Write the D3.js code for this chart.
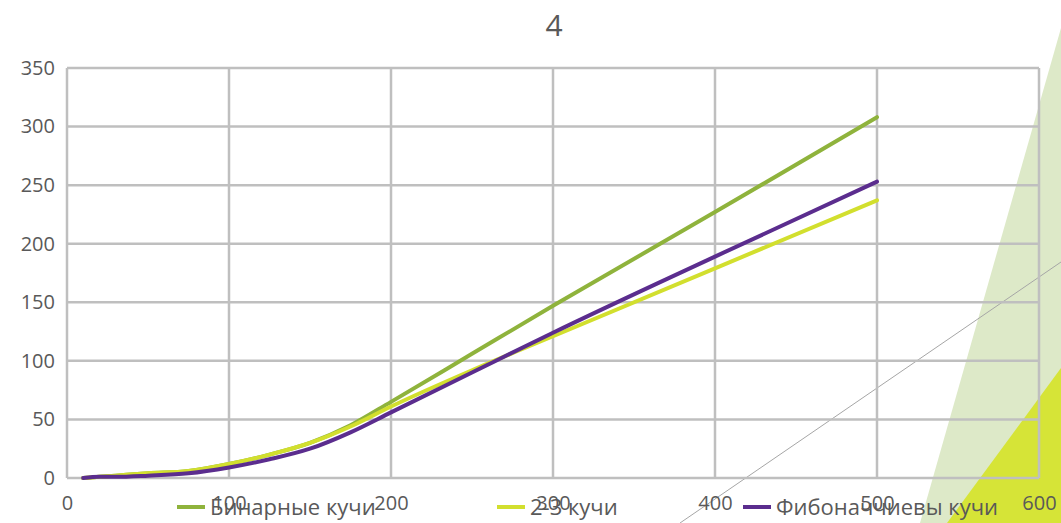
<!DOCTYPE html>
<html>
<head>
<meta charset="utf-8">
<script src="https://cdn.jsdelivr.net/npm/d3@7"></script>
<style>
  html, body { margin: 0; padding: 0; background: #fff; }
  svg { display: block; font-family: "Open Sans", sans-serif; }
</style>
</head>
<body>
<div id="chart"></div>
<script>
// data
const sizes = [10, 20, 30, 50, 75, 100, 125, 150, 175, 200, 250, 300, 400, 500];
const binary = [0, 1, 2, 4, 6, 12, 20, 30, 45, 65, 106, 147, 227, 308];
const twoThree = [0, 1, 2, 4, 6, 12, 20, 30, 44, 61, 92, 121, 179, 237];
const fibonacci = [0, 1, 1, 2, 4, 9, 16, 25, 39, 56, 90, 124, 189, 253];
const seriesNames = ["Бинарные кучи", "2-3 кучи", "Фибоначчиевы кучи"];
const xTicks = [0, 100, 200, 300, 400, 500, 600];
const yTicks = [0, 50, 100, 150, 200, 250, 300, 350];

const width = 1061, height = 523;
const colors = ["#8fb33c", "#d2df2e", "#5b2d8e"];

const svg = d3.select("#chart").append("svg")
    .attr("width", width)
    .attr("height", height);

// slide decoration behind the chart
svg.append("polygon")
    .attr("points", "1061,28 1061,523 920,523")
    .attr("fill", "#dde9c8");
svg.append("polygon")
    .attr("points", "1061,368 1061,523 947,523")
    .attr("fill", "#d6e437");
svg.append("line")
    .attr("x1", 680).attr("y1", 523)
    .attr("x2", 1061).attr("y2", 262)
    .attr("stroke", "#a6a6a6")
    .attr("stroke-width", 1);

const x = d3.scaleLinear().domain([0, 600]).range([67, 1039]);
const y = d3.scaleLinear().domain([0, 350]).range([478, 68]);

// title
svg.append("text")
    .attr("x", 554).attr("y", 36)
    .attr("text-anchor", "middle")
    .style("font-size", "30px")
    .style("fill", "#595959")
    .text("4");

// grid
const grid = svg.append("g").attr("stroke", "#bfbfbf").attr("stroke-width", 2.5);
grid.selectAll(".gx").data(xTicks).enter().append("line")
    .attr("x1", d => x(d)).attr("x2", d => x(d))
    .attr("y1", y(0)).attr("y2", y(350));
grid.selectAll(".gy").data(yTicks).enter().append("line")
    .attr("x1", x(0)).attr("x2", x(600))
    .attr("y1", d => y(d)).attr("y2", d => y(d));

// axes (labels only)
const xAxis = svg.append("g")
    .attr("transform", `translate(0, ${y(0)})`)
    .call(d3.axisBottom(x).tickValues(xTicks).tickSize(0).tickPadding(18));
const yAxis = svg.append("g")
    .attr("transform", `translate(${x(0)}, 0)`)
    .call(d3.axisLeft(y).tickValues(yTicks).tickSize(0).tickPadding(12));
[xAxis, yAxis].forEach(a => {
    a.select(".domain").remove();
    a.selectAll("text")
        .style("font-size", "20px")
        .style("font-family", "Open Sans, sans-serif")
        .style("fill", "#595959");
});

// lines
const allSeries = [binary, twoThree, fibonacci];
const line = d3.line()
    .x((d, i) => x(sizes[i]))
    .y(d => y(d))
    .curve(d3.curveMonotoneX);

svg.selectAll(".series")
    .data(allSeries)
    .enter()
    .append("path")
    .attr("class", "series")
    .attr("d", d => line(d))
    .attr("fill", "none")
    .attr("stroke", (d, i) => colors[i])
    .attr("stroke-width", 4)
    .attr("stroke-linecap", "round");

// legend
const legendX = [177, 497, 743];
const legend = svg.selectAll(".legend")
    .data(seriesNames)
    .enter()
    .append("g")
    .attr("class", "legend")
    .attr("transform", (d, i) => `translate(${legendX[i]}, 507)`);
legend.append("line")
    .attr("x1", 0).attr("x2", 28)
    .attr("stroke", (d, i) => colors[i])
    .attr("stroke-width", 4);
legend.append("text")
    .attr("x", 33).attr("y", 8)
    .style("font-size", "22px")
    .style("fill", "#595959")
    .text(d => d);
</script>
</body>
</html>
